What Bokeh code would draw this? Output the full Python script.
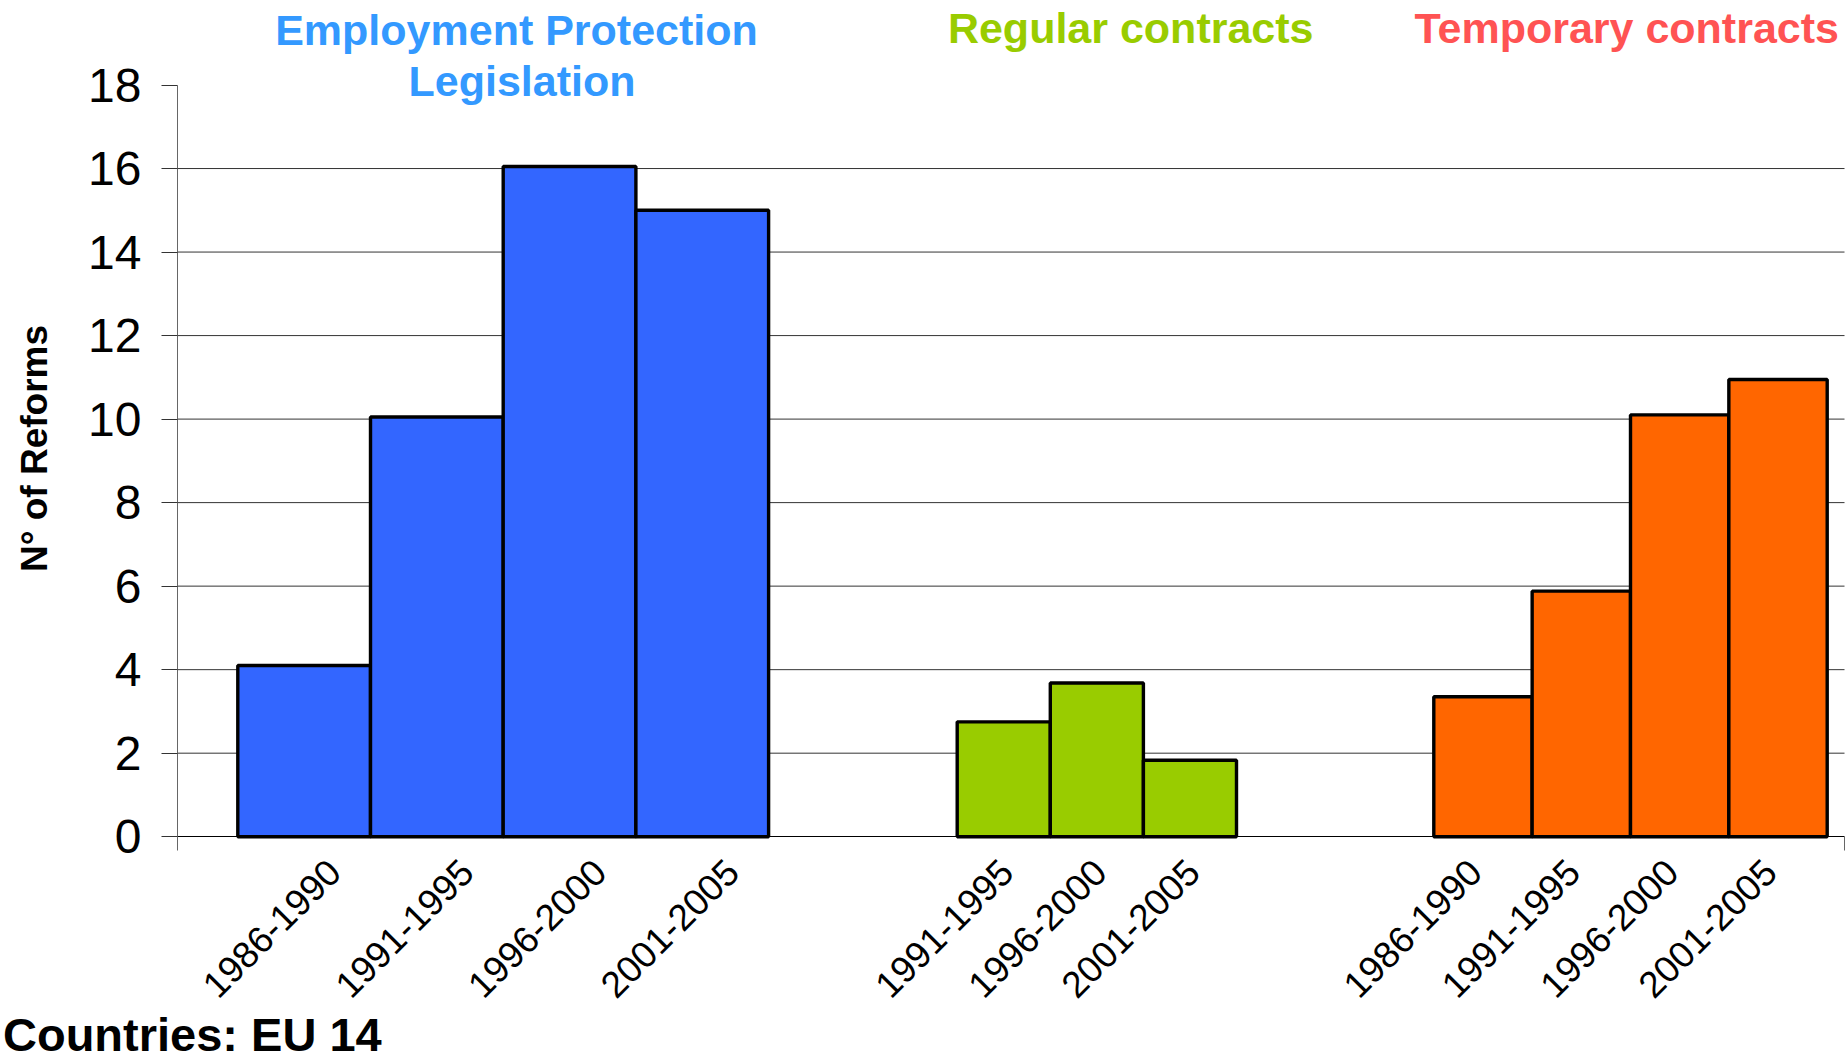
import math
from bokeh.plotting import figure
from bokeh.models import ColumnDataSource, FixedTicker, Label, Range1d
from bokeh.embed import file_html
from bokeh.resources import INLINE

# ---- data ----
group_titles = ["Employment Protection", "Legislation", "Regular contracts", "Temporary contracts"]
epl_periods = ["1986-1990", "1991-1995", "1996-2000", "2001-2005"]
epl_values = [4.1, 10.05, 16.05, 15.0]
regular_periods = ["1991-1995", "1996-2000", "2001-2005"]
regular_values = [2.75, 3.68, 1.83]
temporary_periods = ["1986-1990", "1991-1995", "1996-2000", "2001-2005"]
temporary_values = [3.35, 5.88, 10.1, 10.95]
y_ticks = [0, 2, 4, 6, 8, 10, 12, 14, 16, 18]
y_label = "N° of Reforms"
footnote = "Countries: EU 14"

# ---- layout (the frame spans the whole canvas; x data units = pixels) ----
W, H = 1848, 1057
AXIS_X = 177          # pixel column of the value axis
AXIS_END_X = 1844     # right end of the category axis
Y0_PX = 836.2         # pixel row of value 0
PX_PER_UNIT = 41.76
TEXT_LIFT = 14        # correction for label baseline placement
FONT = "Liberation Sans"

# (group start, bar width, label shift) in pixels
layout = [
    (237.3, 132.7, 30),
    (956.7, 93.1, 3),
    (1433.3, 98.35, -8),
]
colors = ["#3366FF", "#99CC00", "#FF6600"]
series = [(epl_periods, epl_values), (regular_periods, regular_values),
          (temporary_periods, temporary_values)]

xs, ws, tops, fills = [], [], [], []
tick_pos, tick_lab = [], {}
for (start, bw, shift), col, (periods, vals) in zip(layout, colors, series):
    for i, (per, v) in enumerate(zip(periods, vals)):
        cx = start + bw * (i + 0.5)
        xs.append(cx)
        ws.append(bw)
        tops.append(v)
        fills.append(col)
        t = round(cx + shift, 1)
        tick_pos.append(t)
        tick_lab[t] = per

src = ColumnDataSource(dict(x=xs, w=ws, top=tops, color=fills))
grid_vals = y_ticks[1:-1]
grid_src = ColumnDataSource(dict(y=grid_vals, x0=[AXIS_X] * len(grid_vals),
                                 x1=[AXIS_END_X] * len(grid_vals)))

y_start = -(H - Y0_PX) / PX_PER_UNIT
y_end = Y0_PX / PX_PER_UNIT

p = figure(width=W, height=H, x_range=Range1d(0, W), y_range=Range1d(y_start, y_end),
           output_backend="svg", toolbar_location=None,
           min_border_left=0, min_border_right=0, min_border_top=0, min_border_bottom=0)
p.outline_line_color = None
p.background_fill_color = "white"
p.border_fill_color = "white"
p.xgrid.visible = False
p.ygrid.visible = False

# horizontal gridlines, only across the plotting area
p.segment(x0="x0", x1="x1", y0="y", y1="y", source=grid_src,
          line_color="#333333", line_width=1, level="underlay")

p.vbar(x="x", width="w", top="top", bottom=0, source=src,
       fill_color="color", line_color="black", line_width=3.4)

# y axis
ya = p.yaxis[0]
ya.fixed_location = AXIS_X
ya.bounds = (0, 18)
ya.ticker = FixedTicker(ticks=y_ticks)
ya.axis_line_color = "#666666"
ya.major_tick_line_color = "#333333"
ya.major_tick_out = 16
ya.major_tick_in = 0
ya.minor_tick_line_color = None
ya.major_label_text_font = FONT
ya.major_label_text_font_size = "48px"
ya.major_label_text_color = "black"
ya.major_label_standoff = 20

# x axis
xa = p.xaxis[0]
xa.fixed_location = 0
xa.bounds = (AXIS_X, AXIS_END_X)
xa.ticker = FixedTicker(ticks=tick_pos, minor_ticks=[AXIS_X, AXIS_END_X])
xa.major_label_overrides = tick_lab
xa.major_label_orientation = math.pi / 4
xa.major_label_text_font = FONT
xa.major_label_text_font_size = "37px"
xa.major_label_text_color = "black"
xa.major_label_standoff = 15
xa.major_tick_line_color = None
xa.major_tick_out = 0
xa.major_tick_in = 0
xa.minor_tick_line_color = "#666666"
xa.minor_tick_out = 14
xa.minor_tick_in = 0
xa.axis_line_color = "black"
xa.axis_line_width = 1


def px_to_y(py):
    return (Y0_PX - py) / PX_PER_UNIT


# value-axis title
p.add_layout(Label(x=34, y=px_to_y(448), text=y_label, angle=math.pi / 2,
                   text_align="center", text_baseline="middle", text_font=FONT,
                   text_font_size="37px", text_font_style="bold", text_color="black"))

title_specs = [
    (group_titles[0], 516, 43.3, "#3399FF"),
    (group_titles[1], 521.5, 94.3, "#3399FF"),
    (group_titles[2], 1130.2, 41.7, "#99CC00"),
    (group_titles[3], 1626.2, 41.7, "#FF5353"),
]
for txt, cx, by, col in title_specs:
    p.add_layout(Label(x=cx, y=px_to_y(by - TEXT_LIFT), text=txt, text_align="center",
                       text_baseline="alphabetic", text_font=FONT, text_font_size="43px",
                       text_font_style="bold", text_color=col))

p.add_layout(Label(x=2.5, y=px_to_y(1048.3 - TEXT_LIFT), text=footnote, text_align="left",
                   text_baseline="alphabetic", text_font=FONT, text_font_size="47px",
                   text_font_style="bold", text_color="black"))

open("out.html", "w").write(file_html(p, INLINE))
